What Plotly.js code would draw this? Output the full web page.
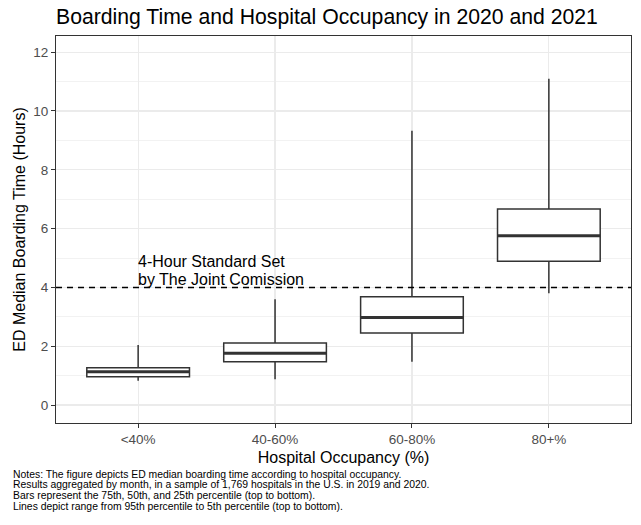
<!DOCTYPE html>
<html>
<head>
<meta charset="utf-8">
<script src="https://cdn.plot.ly/plotly-3.0.1.min.js"></script>
<style>html,body{margin:0;padding:0;background:#fff;}#chart{width:641px;height:525px;}</style>
</head>
<body>
<div id="chart"></div>
<script>
// ---- Data (hours) ----
const categories = ['<40%', '40-60%', '60-80%', '80+%'];
const p95 = [2.04, 3.60, 9.33, 11.10];
const p75 = [1.27, 2.11, 3.68, 6.67];
const p50 = [1.13, 1.76, 2.98, 5.76];
const p25 = [0.96, 1.47, 2.45, 4.89];
const p5  = [0.83, 0.88, 1.47, 3.80];
const standardHours = 4;
const standardLabel = ['4-Hour Standard Set', 'by The Joint Comission'];
const yTicks = [0, 2, 4, 6, 8, 10, 12];
const titleText = 'Boarding Time and Hospital Occupancy in 2020 and 2021';
const xTitle = 'Hospital Occupancy (%)';
const yTitle = 'ED Median Boarding Time (Hours)';
const notes = [
  'Notes: The figure depicts ED median boarding time according to hospital occupancy.',
  'Results aggregated by month, in a sample of 1,769 hospitals in the U.S. in 2019 and 2020.',
  'Bars represent the 75th, 50th, and 25th percentile (top to bottom).',
  'Lines depict range from 95th percentile to 5th percentile (top to bottom).'
];

const FONT = 'Liberation Sans, Arial, Helvetica, sans-serif';
const INK = '#333333';
const BOXW = 0.75;
const xpos = categories.map((c, i) => i);

const boxTrace = {
  type: 'box',
  x: xpos,
  q1: p25, median: p50, q3: p75,
  lowerfence: p5, upperfence: p95,
  width: BOXW,
  whiskerwidth: 0,
  boxpoints: false,
  fillcolor: '#ffffff',
  line: {color: INK, width: 1.5},
  showlegend: false,
  hoverinfo: 'skip'
};

// thicker median bars, derived from the median array
const mx = [], my = [];
xpos.forEach((x, i) => { mx.push(x - BOXW / 2, x + BOXW / 2, null); my.push(p50[i], p50[i], null); });
const medianTrace = {
  type: 'scatter', mode: 'lines', x: mx, y: my,
  line: {color: INK, width: 3}, showlegend: false, hoverinfo: 'skip'
};

const annotations = [];
standardLabel.forEach((t, k) => {
  annotations.push({
    text: t, x: 0, y: standardHours, xref: 'x', yref: 'y',
    xanchor: 'left', yanchor: 'middle', showarrow: false,
    xshift: -1, yshift: 8 + (standardLabel.length - 1 - k) * 18,
    borderpad: 0,
    font: {family: FONT, size: 16, color: '#000'}
  });
});
notes.forEach((t, k) => {
  annotations.push({
    text: t, x: 0, y: 0, xref: 'paper', yref: 'paper',
    xanchor: 'left', yanchor: 'middle', showarrow: false,
    xshift: -44, yshift: -(51 + k * 10.8),
    borderpad: 0,
    font: {family: FONT, size: 10.4, color: '#000'}
  });
});

const layout = {
  width: 641, height: 525,
  margin: {l: 56, r: 10, t: 36, b: 102, pad: 0},
  paper_bgcolor: '#fff', plot_bgcolor: '#fff',
  font: {family: FONT, color: '#000'},
  title: {
    text: titleText, x: 0, xref: 'paper', xanchor: 'left',
    y: 1 - 17 / 525, yref: 'container', yanchor: 'middle',
    font: {family: FONT, size: 21.2, color: '#000'}
  },
  xaxis: {
    range: [-0.6, categories.length - 1 + 0.6],
    tickmode: 'array', tickvals: xpos, ticktext: categories,
    showgrid: true, gridcolor: '#ebebeb', gridwidth: 1.2,
    zeroline: false,
    showline: true, mirror: true, linecolor: INK, linewidth: 1,
    ticks: 'outside', ticklen: 4, tickwidth: 1, tickcolor: INK,
    tickfont: {family: FONT, size: 13.5, color: '#4d4d4d'},
    title: {text: xTitle, standoff: 5, font: {family: FONT, size: 16, color: '#000'}}
  },
  yaxis: {
    range: [-0.61, 12.55],
    tickmode: 'array', tickvals: yTicks,
    showgrid: true, gridcolor: '#ebebeb', gridwidth: 1.2,
    minor: {tickmode: 'linear', tick0: 1, dtick: 2, showgrid: true, gridcolor: '#ededed', gridwidth: 0.7, ticks: ''},
    zeroline: false,
    showline: true, mirror: true, linecolor: INK, linewidth: 1,
    ticks: 'outside', ticklen: 4, tickwidth: 1, tickcolor: INK,
    tickfont: {family: FONT, size: 13.5, color: '#4d4d4d'},
    title: {text: yTitle, standoff: 3, font: {family: FONT, size: 16, color: '#000'}}
  },
  shapes: [{
    type: 'line', xref: 'paper', x0: 0, x1: 1, yref: 'y', y0: standardHours, y1: standardHours,
    line: {color: '#000', width: 1.5, dash: '6px,5px'}, layer: 'above'
  }],
  annotations: annotations
};

Plotly.newPlot('chart', [boxTrace, medianTrace], layout, {displayModeBar: false, staticPlot: true});
</script>
</body>
</html>
